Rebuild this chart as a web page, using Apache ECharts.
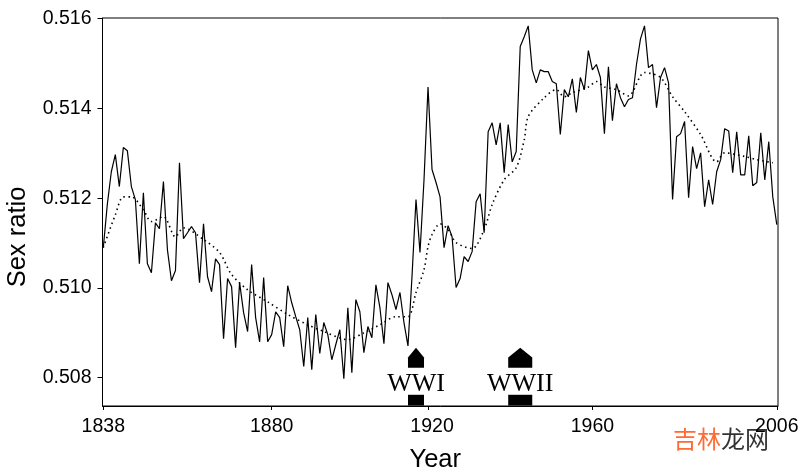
<!DOCTYPE html>
<html>
<head>
<meta charset="utf-8">
<style>html,body{margin:0;padding:0;background:#fff}#c{width:808px;height:476px}</style>
<script src="https://cdn.jsdelivr.net/npm/echarts@6/dist/echarts.min.js"></script>
</head>
<body>
<div id="c"></div>
<script>
const startYear = 1838;
const sexRatio = [
0.51090,0.51186,0.51259,0.51297,0.51226,0.51313,0.51306,0.51226,0.51197,0.51054,
0.51212,0.51054,0.51034,0.51145,0.51132,0.51237,0.51085,0.51016,0.51039,0.51279,
0.51110,0.51123,0.51137,0.51123,0.51012,0.51143,0.51025,0.50992,0.51065,0.51052,
0.50887,0.51021,0.51003,0.50867,0.51012,0.50945,0.50903,0.51052,0.50934,0.50880,
0.51023,0.50880,0.50896,0.50947,0.50934,0.50869,0.51005,0.50967,0.50936,0.50907,
0.50825,0.50934,0.50818,0.50941,0.50854,0.50923,0.50896,0.50840,0.50874,0.50907,
0.50798,0.50956,0.50811,0.50974,0.50947,0.50856,0.50914,0.50889,0.51007,0.50956,
0.50876,0.51012,0.50985,0.50952,0.50990,0.50923,0.50871,0.51025,0.51197,0.51079,
0.51241,0.51448,0.51264,0.51235,0.51203,0.51090,0.51139,0.51114,0.51001,0.51021,
0.51070,0.51059,0.51081,0.51192,0.51210,0.51123,0.51348,0.51368,0.51319,0.51368,
0.51257,0.51364,0.51281,0.51304,0.51538,0.51560,0.51584,0.51486,0.51457,0.51486,
0.51482,0.51482,0.51460,0.51455,0.51342,0.51442,0.51426,0.51466,0.51391,0.51469,
0.51442,0.51529,0.51486,0.51498,0.51469,0.51344,0.51493,0.51373,0.51455,0.51424,
0.51404,0.51420,0.51424,0.51498,0.51555,0.51584,0.51491,0.51498,0.51402,0.51469,
0.51491,0.51457,0.51197,0.51337,0.51344,0.51371,0.51201,0.51315,0.51266,0.51301,
0.51181,0.51241,0.51186,0.51259,0.51286,0.51355,0.51350,0.51257,0.51348,0.51252,
0.51252,0.51339,0.51228,0.51235,0.51346,0.51241,0.51326,0.51203,0.51141
];
const trendYears = [
1838,1841,1843,1845,1848,1850,1853,1856,1858,1863,1867,1870,1874,1879,1884,1889,1893,1899,1903,1907,
1911,1914,1916,1918,1919,1920,1922,1924,1926,1930,1933,1935,1938,1941,1943,1944,1948,1951,1953,1955,
1959,1961,1963,1966,1969,1973,1977,1980,1983,1987,1991,1993,1998,2001,2005
];
const trendValues = [
0.51090,0.51163,0.51203,0.51203,0.51174,0.51148,0.51159,0.51114,0.51134,0.51108,0.51079,0.51030,0.50996,0.50969,0.50941,0.50918,0.50903,0.50885,0.50900,0.50918,
0.50936,0.50936,0.50990,0.51041,0.51092,0.51119,0.51143,0.51130,0.51101,0.51088,0.51130,0.51186,0.51241,0.51268,0.51330,0.51382,0.51424,0.51442,0.51426,0.51435,
0.51448,0.51460,0.51448,0.51442,0.51428,0.51480,0.51469,0.51426,0.51393,0.51342,0.51281,0.51301,0.51293,0.51286,0.51279
];
const xTickPositions = [1838,1880,1919,1960,2006];
const xTickLabels = [1838,1880,1920,1960,2006];
const yTicks = [0.508,0.510,0.512,0.514,0.516];
const yTickLabels = ["0.508","0.510","0.512","0.514","0.516"];
const warNames = ["WWI","WWII"];
const warStart = [1914,1939];
const warEnd = [1918,1945];

const chart = echarts.init(document.getElementById('c'), null, {renderer:'canvas'});
const yMin = 0.50737, yMax = 0.516016;

function warItem(params, api){
  const s = api.value(0), e = api.value(1), m = (s+e)/2;
  const p = (x,y)=>api.coord([x,y]);
  return {type:'group', children:[
    {type:'polygon', shape:{points:[p(s,0.50738),p(s,0.50762),p(e,0.50762),p(e,0.50738)]}, style:{fill:'#000'}},
    {type:'polygon', shape:{points:[p(s,0.50822),p(s,0.50845),p(m,0.50867),p(e,0.50845),p(e,0.50822)]}, style:{fill:'#000'}},
    {type:'text', x:p(m,0.50785)[0], y:p(m,0.50785)[1],
     style:{text:warNames[params.dataIndex], fill:'#000', font:'26px "Liberation Serif"', align:'center', verticalAlign:'middle'}}
  ]};
}

chart.setOption({
  animation:false,
  backgroundColor:'#fff',
  grid:{left:102.5, right:30, top:18, bottom:70, show:true, borderColor:'#000', borderWidth:1, backgroundColor:'transparent', outerBoundsMode:'none', containLabel:false},
  xAxis:{
    type:'value', min:1837.8, max:2006.3,
    name:'Year', nameLocation:'middle', nameGap:41,
    nameTextStyle:{fontFamily:'Liberation Sans', fontSize:25.5, color:'#000', padding:[0,10,0,0]},
    axisLine:{show:true, onZero:false, lineStyle:{color:'#000', width:1}},
    axisTick:{show:true, length:4, customValues:xTickPositions, lineStyle:{color:'#000', width:1}},
    axisLabel:{show:true, margin:11, customValues:xTickLabels, hideOverlap:false, fontFamily:'Liberation Sans', fontSize:19.5, color:'#000',
      formatter:v=>String(v)},
    splitLine:{show:false}
  },
  yAxis:{
    type:'value', min:yMin, max:yMax,
    name:'Sex ratio', nameLocation:'middle', nameGap:72,
    nameTextStyle:{fontFamily:'Liberation Sans', fontSize:25.5, color:'#000', padding:[0,50,0,0]},
    axisLine:{show:true, onZero:false, lineStyle:{color:'#000', width:1}},
    axisTick:{show:true, length:5, customValues:yTicks, lineStyle:{color:'#000', width:1}},
    axisLabel:{show:true, margin:11, customValues:yTicks, hideOverlap:false, fontFamily:'Liberation Sans', fontSize:19.5, color:'#000', padding:[3,0,0,0],
      formatter:v=>yTickLabels[yTicks.indexOf(v)]},
    splitLine:{show:false}
  },
  series:[
    {type:'line', data:sexRatio.map((v,i)=>[startYear+i,v]), symbol:'none', silent:true,
     lineStyle:{color:'#000', width:1.2}},
    {type:'line', data:trendYears.map((y,i)=>[y,trendValues[i]]), symbol:'none', silent:true, smooth:0.3,
     lineStyle:{color:'#000', width:1.6, type:[1.5,3.5]}},
    {type:'custom', data:warStart.map((s,i)=>[s,warEnd[i]]), renderItem:warItem, silent:true, clip:false,
     encode:{x:[0,1]}}
  ],
  graphic:[{
    type:'text', left:673, top:427, silent:true,
    style:{
      rich:{
        a:{fill:'#FF6B35', font:'24px "Noto Sans CJK SC"'},
        b:{fill:'#333333', font:'24px "Noto Sans CJK SC"'}
      },
      text:'{a|吉林}{b|龙网}'
    }
  }]
});
</script>
</body>
</html>
